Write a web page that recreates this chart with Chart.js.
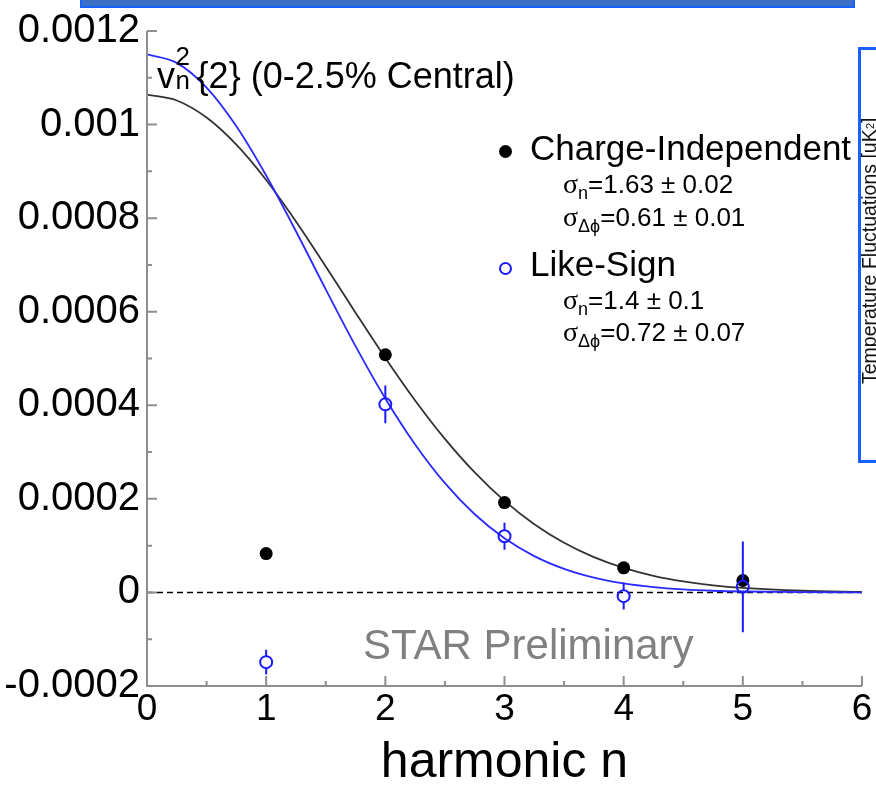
<!DOCTYPE html>
<html>
<head>
<meta charset="utf-8">
<script src="https://cdn.jsdelivr.net/npm/chart.js@4.4.1/dist/chart.umd.min.js"></script>
<style>
    html, body { margin: 0; padding: 0; background: #fff; }
    #wrap {
        position: relative; width: 876px; height: 788px; overflow: hidden;
        font-family: "Liberation Sans", Arial, sans-serif; color: #000;
    }
    #chart { position: absolute; left: 0; top: 0; }
    .abs { position: absolute; white-space: nowrap; line-height: 1; }
    .topbar {
        left: 80px; top: -3px; width: 771px; height: 7px;
        background: #3a6fc4; border: 2px solid #1560ff;
    }
    .sidebox {
        left: 858px; top: 47px; width: 40px; height: 410px;
        border: 3px solid #1860ff;
    }
    .sidetext {
        left: 859px; top: 108px; width: 22px; height: 285px;
        font-size: 19.5px; writing-mode: vertical-rl; transform: rotate(180deg);
        display: flex; align-items: center; justify-content: center; color: #111;
    }
    .sidetext sup { font-size: 11px; }
    .title { font-size: 36px; left: 157px; top: 52px; }
    .stack { display: inline-block; position: relative; width: 0.6em; height: 1em; }
    .stack .up { position: absolute; left: 0.02em; top: -0.3em; font-size: 0.72em; }
    .stack .dn { position: absolute; left: 0.02em; top: 0.6em; font-size: 0.72em; }
    .leg { font-size: 35px; left: 530px; }
    .sig { font-size: 26px; left: 563px; }
    .sig .g { font-family: "Liberation Serif", "DejaVu Serif", serif; font-size: 28px; }
    .sig sub { font-size: 18px; vertical-align: -0.35em; }
    .dot { width: 13px; height: 13px; border-radius: 50%; background: #000; }
    .ring { width: 9px; height: 9px; border-radius: 50%; border: 2px solid #1a1aff; }
    .star { font-size: 42px; left: 363px; top: 624px; color: #808080; }
</style>
</head>
<body>
<div id="wrap">
    <canvas id="chart" width="876" height="788"></canvas>
    <div class="abs topbar"></div>
    <div class="abs sidebox"></div>
    <div class="abs sidetext">Temperature Fluctuations [uK<sup>2</sup>]</div>

    <div class="abs title">v<span class="stack"><span class="up">2</span><span class="dn">n</span></span>{2} (0-2.5% Central)</div>

    <div class="abs dot" style="left:499px; top:145px;"></div>
    <div class="abs leg" style="top:130px;">Charge-Independent</div>
    <div class="abs sig" style="top:170px;"><span class="g">σ</span><sub>n</sub>=1.63 ± 0.02</div>
    <div class="abs sig" style="top:203px;"><span class="g">σ</span><sub>Δϕ</sub>=0.61 ± 0.01</div>
    <div class="abs ring" style="left:499px; top:262px;"></div>
    <div class="abs leg" style="top:246px;">Like-Sign</div>
    <div class="abs sig" style="top:286px;"><span class="g">σ</span><sub>n</sub>=1.4 ± 0.1</div>
    <div class="abs sig" style="top:318px;"><span class="g">σ</span><sub>Δϕ</sub>=0.72 ± 0.07</div>

    <div class="abs star">STAR Preliminary</div>
</div>

<script>
// measured points (harmonic n)
const harmonics = [1, 2, 3, 4, 5];
const chargeIndep = [0.000083, 0.000508, 0.000192, 0.0000525, 0.0000255];
const likeSign = [-0.000149, 0.000402, 0.00012, -0.000008, 0.000012];
const likeSignErr = [0.0000266, 0.0000404, 0.0000287, 0.0000287, 0.000097];

// gaussian fit curves
const fitN = [0, 0.25, 0.5, 0.75, 1, 1.25, 1.5, 1.75, 2, 2.25, 2.5, 2.75, 3,
    3.25, 3.5, 3.75, 4, 4.25, 4.5, 4.75, 5, 5.5, 6];
const fitChargeIndep = [0.001064, 0.0010515, 0.001015, 0.000957, 0.0008815, 0.0007929,
    0.0006967, 0.000598, 0.0005012, 0.0004104, 0.0003282, 0.0002564, 0.0001956,
    0.0001458, 0.0001061, 0.0000754, 0.0000524, 0.0000355, 0.0000236, 0.0000152,
    0.0000096, 0.0000036, 0.0000012];
const fitLikeSign = [0.00115, 0.0011318, 0.0010789, 0.0009962, 0.000891, 0.000772,
    0.0006478, 0.0005265, 0.0004145, 0.0003161, 0.0002335, 0.0001671, 0.0001158,
    0.0000777, 0.0000505, 0.0000318, 0.0000194, 0.0000115, 0.0000066, 0.0000036,
    0.000002, 0.0000005, 0.0000001];

// axes
const xTicks = [0, 1, 2, 3, 4, 5, 6];
const yTickValues = [-0.0002, 0, 0.0002, 0.0004, 0.0006, 0.0008, 0.001, 0.0012];
const yTickLabels = ['-0.0002', '0', '0.0002', '0.0004', '0.0006', '0.0008', '0.001', '0.0012'];
const xMinorStep = 0.5;
const yMinorStep = 0.0001;

const toXY = (xs, ys) => xs.map((x, i) => ({ x: x, y: ys[i] }));

// ROOT-style frame: left/bottom axis with ticks pointing inside
const insideTicks = {
    id: 'insideTicks',
    afterDraw(chart) {
        const { ctx, chartArea: area, scales: { x, y } } = chart;
        ctx.save();
        ctx.strokeStyle = '#8e8e8e';
        ctx.lineWidth = 2;
        ctx.beginPath();
        ctx.moveTo(area.left, area.top);
        ctx.lineTo(area.left, area.bottom);
        ctx.lineTo(area.right, area.bottom);
        for (let v = x.min; v <= x.max + 1e-9; v += xMinorStep) {
            const px = x.getPixelForValue(v);
            const len = Math.abs(v - Math.round(v)) < 1e-9 ? 10 : 5;
            ctx.moveTo(px, area.bottom);
            ctx.lineTo(px, area.bottom - len);
        }
        for (let k = 0; k <= Math.round((y.max - y.min) / yMinorStep); k++) {
            const v = y.min + k * yMinorStep;
            const py = y.getPixelForValue(v);
            const len = k % 2 === 0 ? 10 : 5;
            ctx.moveTo(area.left, py);
            ctx.lineTo(area.left + len, py);
        }
        ctx.stroke();
        ctx.restore();
    }
};

const errorBars = {
    id: 'errorBars',
    afterDatasetsDraw(chart) {
        const { ctx, scales: { x, y } } = chart;
        const r = 6;
        ctx.save();
        ctx.strokeStyle = '#1a1aff';
        ctx.lineWidth = 2;
        ctx.beginPath();
        harmonics.forEach((n, i) => {
            const px = x.getPixelForValue(n);
            const pc = y.getPixelForValue(likeSign[i]);
            const pHi = y.getPixelForValue(likeSign[i] + likeSignErr[i]);
            const pLo = y.getPixelForValue(likeSign[i] - likeSignErr[i]);
            if (pc - pHi > r) { ctx.moveTo(px, pHi); ctx.lineTo(px, pc - r); }
            if (pLo - pc > r) { ctx.moveTo(px, pc + r); ctx.lineTo(px, pLo); }
        });
        ctx.stroke();
        ctx.restore();
    }
};

Chart.defaults.font.family = '"Liberation Sans", Arial, sans-serif';
Chart.defaults.color = '#000';

const ctx = document.getElementById('chart').getContext('2d');
new Chart(ctx, {
    type: 'scatter',
    data: {
        datasets: [
            {
                label: 'Like-Sign',
                data: toXY(harmonics, likeSign),
                pointRadius: 6,
                pointBorderWidth: 2,
                borderColor: '#1a1aff',
                backgroundColor: 'rgba(0,0,0,0)',
                showLine: false
            },
            {
                label: 'Charge-Independent',
                data: toXY(harmonics, chargeIndep),
                pointRadius: 6.5,
                pointBorderWidth: 0,
                backgroundColor: '#000',
                borderColor: '#000',
                showLine: false
            },
            {
                label: 'fit like-sign',
                data: toXY(fitN, fitLikeSign),
                showLine: true,
                pointRadius: 0,
                borderColor: '#2a2aff',
                borderWidth: 1.8,
                cubicInterpolationMode: 'monotone'
            },
            {
                label: 'fit charge-independent',
                data: toXY(fitN, fitChargeIndep),
                showLine: true,
                pointRadius: 0,
                borderColor: '#333',
                borderWidth: 1.8,
                cubicInterpolationMode: 'monotone'
            },
            {
                label: 'zero',
                data: toXY([0, 6], [0, 0]),
                showLine: true,
                pointRadius: 0,
                borderColor: '#000',
                borderWidth: 1.5,
                borderDash: [6, 4]
            }
        ]
    },
    options: {
        responsive: false,
        animation: false,
        devicePixelRatio: 1,
        layout: { padding: { top: 28, right: 14, left: 0, bottom: 0 } },
        plugins: {
            legend: { display: false },
            tooltip: { enabled: false }
        },
        scales: {
            x: {
                type: 'linear',
                min: 0,
                max: 6,
                grid: { display: false, drawTicks: false },
                border: { display: false },
                afterBuildTicks: scale => { scale.ticks = xTicks.map(v => ({ value: v })); },
                afterFit: scale => { scale.height = 102; },
                ticks: {
                    padding: 2,
                    maxRotation: 0,
                    font: { size: 37 },
                    callback: value => String(value)
                },
                title: {
                    display: true,
                    text: 'harmonic n',
                    font: { size: 50, lineHeight: 1 },
                    padding: { top: 0, bottom: 0 }
                }
            },
            y: {
                type: 'linear',
                min: -0.0002,
                max: 0.0012,
                grid: { display: false, drawTicks: false },
                border: { display: false },
                afterBuildTicks: scale => { scale.ticks = yTickValues.map(v => ({ value: v })); },
                afterFit: scale => { scale.width = 147; },
                ticks: {
                    padding: 7,
                    font: { size: 40 },
                    callback: (value, index) => yTickLabels[index]
                }
            }
        }
    },
    plugins: [insideTicks, errorBars]
});
</script>
</body>
</html>
